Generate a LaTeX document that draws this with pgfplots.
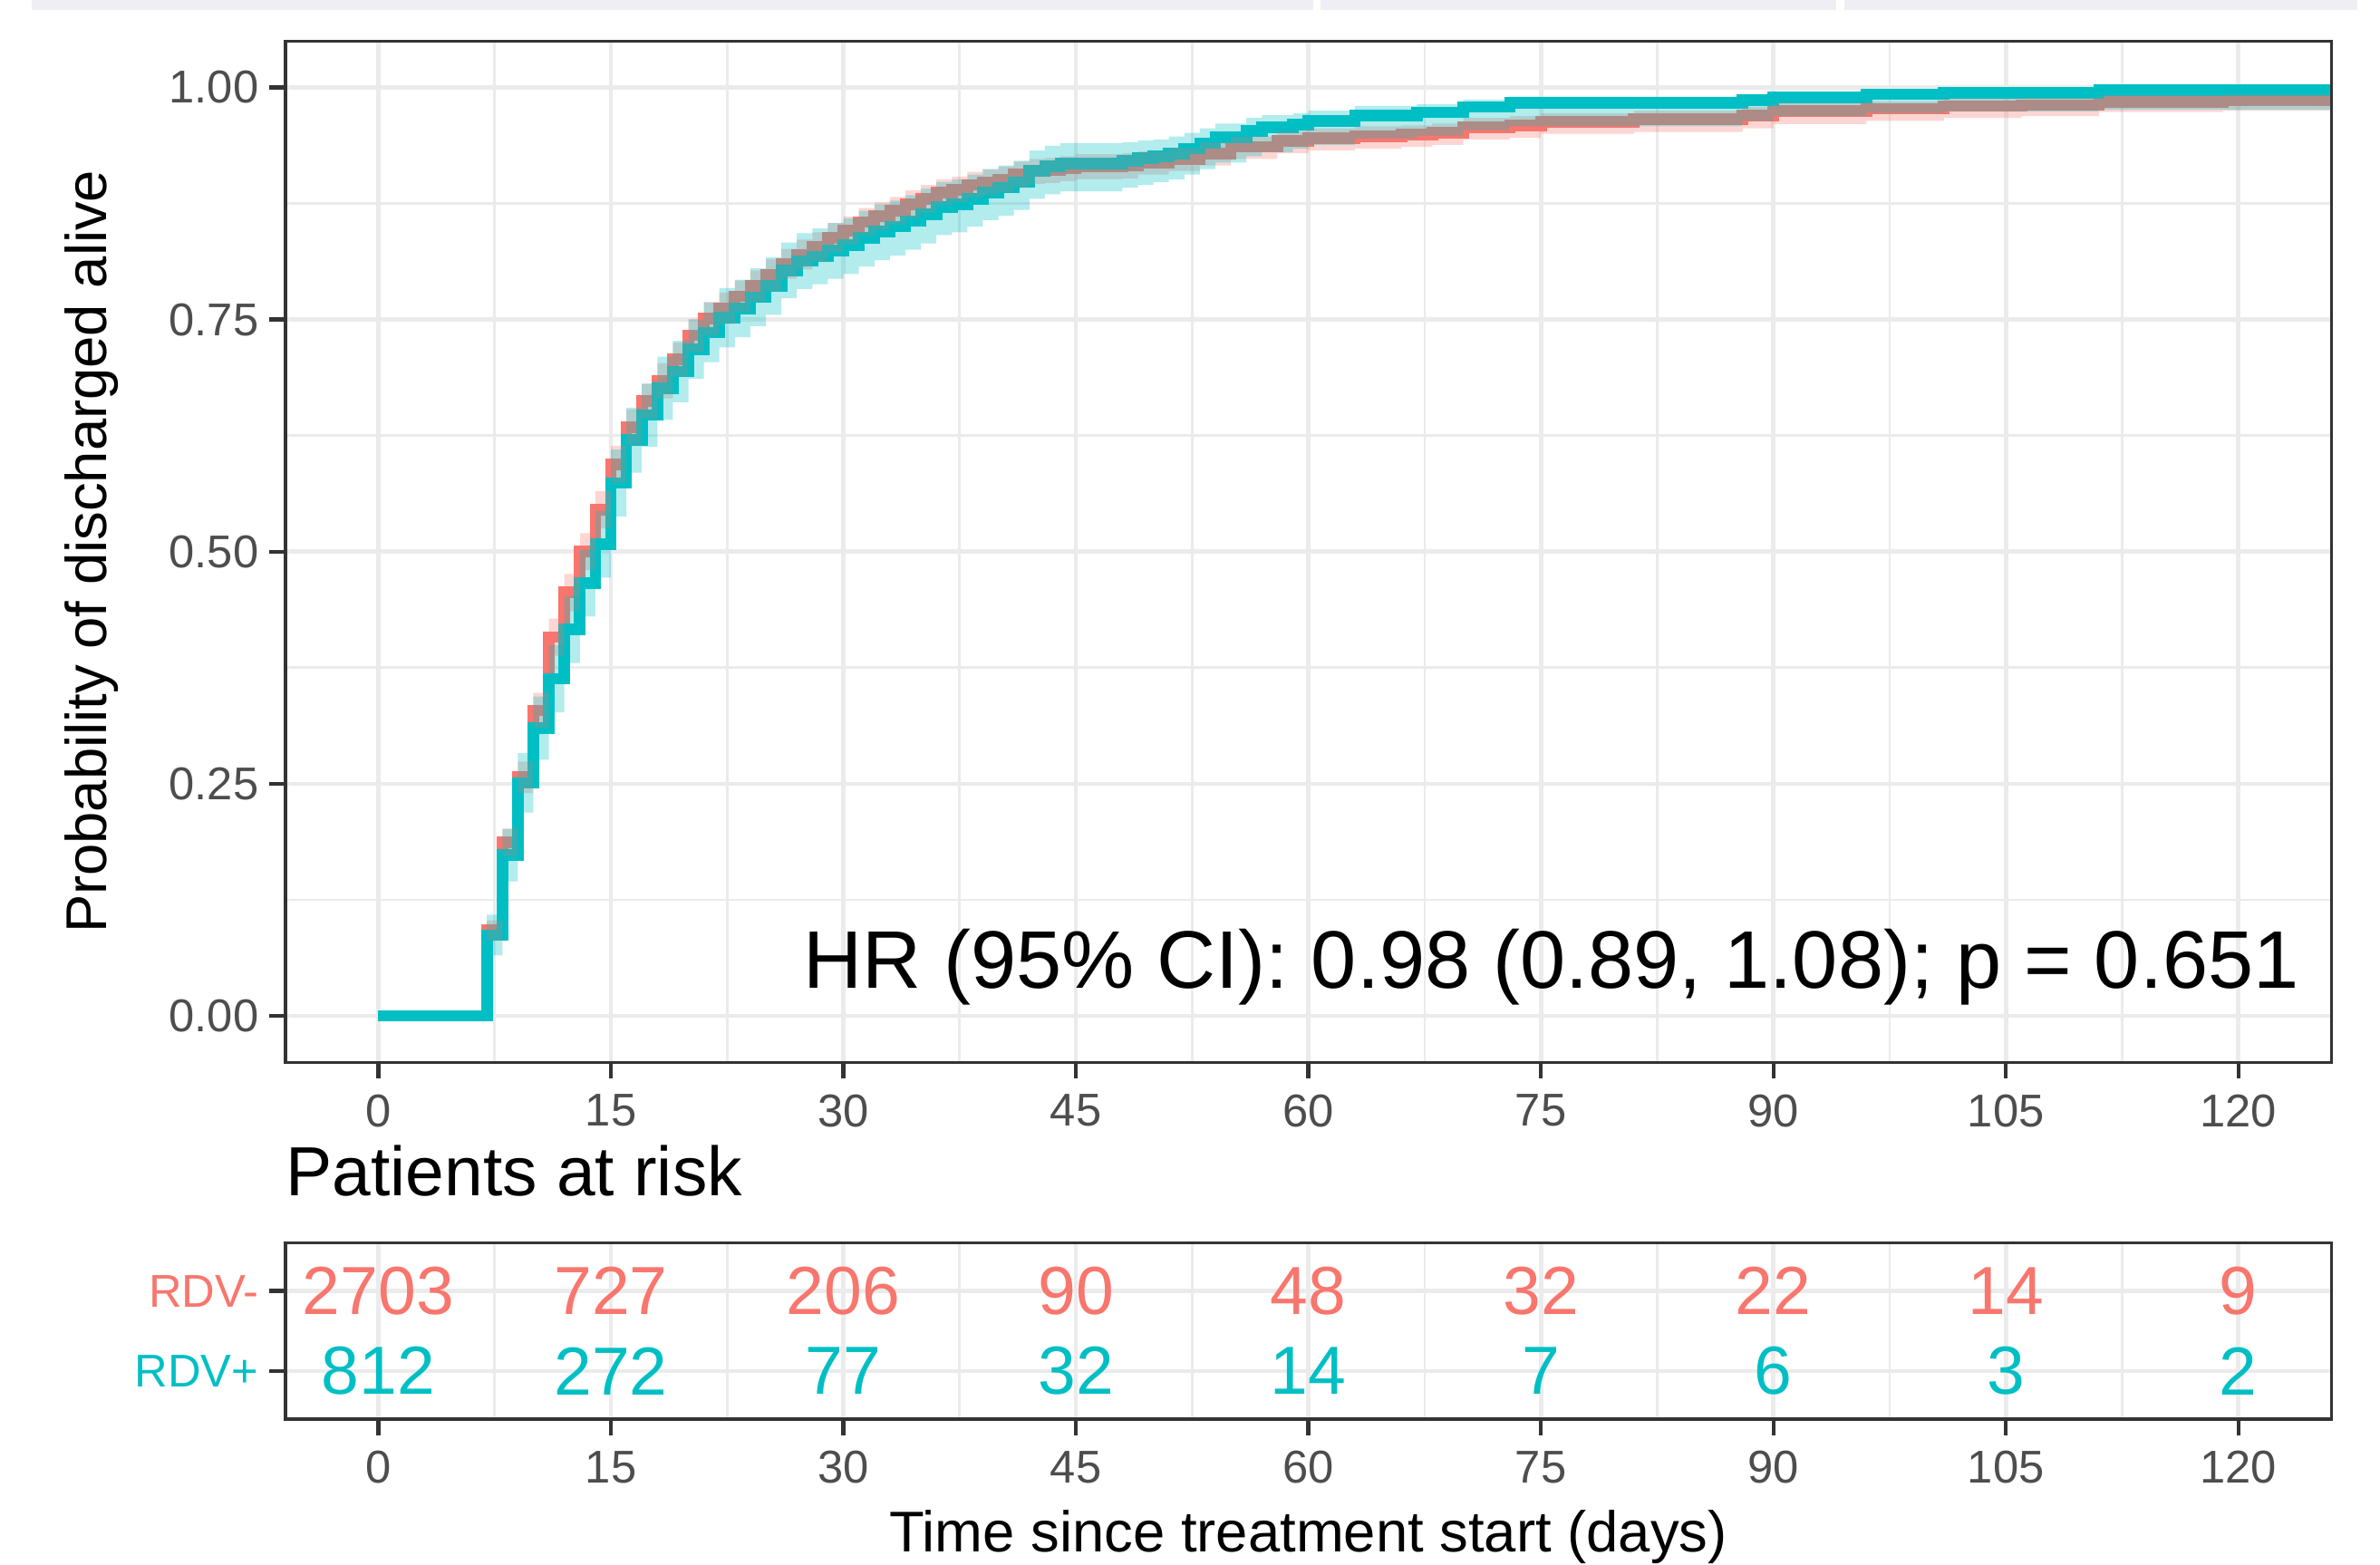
\documentclass[border=0pt]{standalone}
\usepackage{pgfplots}
\pgfplotsset{compat=1.18}
\usepgfplotslibrary{fillbetween}
\usepackage{pgfplotstable}
\usepackage{fontspec}
\setmainfont{Liberation Sans}

\definecolor{rdvneg}{HTML}{F8766D}
\definecolor{rdvpos}{HTML}{00BFC4}
\definecolor{gridc}{HTML}{EBEBEB}
\definecolor{axc}{HTML}{333333}
\definecolor{tickc}{HTML}{4D4D4D}
\definecolor{topbar}{HTML}{EFEEF5}

% ribbons drawn in order (on top of the curves), as in the original
\pgfplotsset{every fill between plot/.style={area legend}}

% RDV- : time, estimate, lower and upper CI offsets
\pgfplotstableread{
t s dl du
0 0 0 0
7 0.092 0.011 0.011
8 0.187 0.015 0.015
9 0.257 0.017 0.017
10 0.329 0.019 0.019
11 0.408 0.020 0.020
12 0.456 0.020 0.020
13 0.500 0.020 0.020
14 0.545 0.020 0.020
15 0.594 0.020 0.020
16 0.634 0.019 0.019
17 0.662 0.019 0.019
18 0.684 0.019 0.019
19 0.707 0.018 0.018
20 0.733 0.018 0.018
21 0.751 0.018 0.018
22 0.762 0.017 0.017
23 0.775 0.017 0.017
24 0.786 0.017 0.017
25 0.798 0.017 0.017
26 0.810 0.016 0.016
27 0.820 0.016 0.016
28 0.828 0.016 0.016
29 0.838 0.016 0.016
30 0.846 0.015 0.015
31 0.855 0.015 0.015
32 0.861 0.015 0.015
33 0.867 0.015 0.015
34 0.874 0.015 0.015
35 0.880 0.015 0.015
36 0.887 0.014 0.014
37 0.890 0.014 0.014
38 0.895 0.014 0.014
39 0.898 0.014 0.014
40 0.901 0.014 0.014
41 0.906 0.014 0.014
42 0.910 0.014 0.013
43 0.911 0.014 0.013
44 0.913 0.014 0.013
45 0.915 0.014 0.013
48 0.916 0.014 0.013
49 0.919 0.013 0.012
51 0.923 0.013 0.012
53 0.929 0.013 0.012
55 0.936 0.013 0.011
58 0.942 0.013 0.011
60 0.945 0.013 0.011
63 0.947 0.013 0.011
66 0.949 0.013 0.010
68 0.951 0.013 0.010
70 0.957 0.013 0.010
73 0.959 0.013 0.010
75 0.963 0.013 0.009
81 0.966 0.014 0.009
88 0.970 0.014 0.009
90 0.9745 0.014 0.009
96 0.977 0.013 0.008
101 0.980 0.013 0.008
106 0.981 0.012 0.008
111 0.9845 0.011 0.007
119 0.986 0.011 0.007
126 0.986 0.011 0.007
}\negdata

% RDV+ : time, estimate, lower and upper CI offsets
\pgfplotstableread{
t s dl du
0 0 0 0
7 0.087 0.022 0.022
8 0.173 0.028 0.028
9 0.251 0.032 0.032
10 0.310 0.034 0.034
11 0.363 0.036 0.036
12 0.416 0.036 0.036
13 0.466 0.036 0.036
14 0.508 0.036 0.036
15 0.574 0.036 0.036
16 0.620 0.035 0.035
17 0.647 0.034 0.034
18 0.676 0.034 0.034
19 0.694 0.033 0.033
20 0.718 0.032 0.032
21 0.736 0.032 0.032
22 0.752 0.032 0.032
23 0.762 0.031 0.031
24 0.774 0.031 0.031
25 0.786 0.031 0.031
26 0.803 0.030 0.030
27 0.813 0.030 0.030
28 0.818 0.030 0.030
29 0.824 0.030 0.030
30 0.830 0.031 0.029
31 0.838 0.031 0.029
32 0.845 0.031 0.029
33 0.850 0.031 0.028
34 0.856 0.031 0.028
35 0.863 0.031 0.028
36 0.871 0.030 0.027
37 0.874 0.030 0.027
38 0.880 0.030 0.026
39 0.887 0.030 0.025
40 0.892 0.030 0.024
41 0.898 0.030 0.023
42 0.910 0.030 0.022
43 0.915 0.030 0.022
44 0.918 0.030 0.022
48 0.921 0.029 0.020
49 0.924 0.029 0.019
50 0.926 0.028 0.018
51 0.929 0.028 0.018
52 0.934 0.028 0.017
53 0.940 0.028 0.016
54 0.946 0.027 0.015
56 0.953 0.027 0.014
57 0.957 0.027 0.013
59 0.960 0.026 0.012
60 0.964 0.026 0.011
63 0.970 0.025 0.010
67 0.973 0.025 0.009
70 0.979 0.025 0.008
73 0.983 0.025 0.007
88 0.986 0.022 0.006
90 0.989 0.020 0.005
96 0.9925 0.020 0.004
101 0.994 0.020 0.003
111 0.997 0.021 0.002
126 0.997 0.021 0.002
}\posdata

% numbers at risk
\pgfplotstableread{
t row n
0 2 2703
15 2 727
30 2 206
45 2 90
60 2 48
75 2 32
90 2 22
105 2 14
120 2 9
}\riskneg
\pgfplotstableread{
t row n
0 1 812
15 1 272
30 1 77
45 1 32
60 1 14
75 1 7
90 1 6
105 1 3
120 1 2
}\riskpos

\pgfplotsset{
  ggpanel/.style={
    scale only axis,
    width=674bp,
    xmin=-6, xmax=126,
    xtick={0,15,...,120},
    xticklabels={0,15,30,45,60,75,90,105,120},
    minor xtick={7.5,22.5,...,112.5},
    grid=both,
    major grid style={draw=gridc, line width=1.4bp},
    minor grid style={draw=gridc, line width=0.8bp},
    axis line style={draw=none},
    tick align=outside,
    tick pos=left,
    major tick length=5.3bp,
    minor tick length=0pt,
    major tick style={draw=axc, line width=1.3bp},
    tick label style={font=\fontsize{15.2}{18}\selectfont, text=tickc},
    xticklabel style={yshift=-1.8bp},
    clip mode=individual,
  }
}

\begin{document}
\begin{tikzpicture}
\path[use as bounding box] (0,0) rectangle (784bp,515.5bp);

% remnant of the page header above the figure
\fill[topbar] (10.5bp,512.2bp) rectangle (432.5bp,515.5bp);
\fill[topbar] (435bp,512.2bp) rectangle (605bp,515.5bp);
\fill[topbar] (607.5bp,512.2bp) rectangle (776.5bp,515.5bp);

% ---------------- survival curves ----------------
\begin{axis}[
  ggpanel,
  at={(94bp,165.5bp)}, anchor=south west,
  height=336.5bp,
  ymin=-0.05, ymax=1.05,
  ytick={0,0.25,0.5,0.75,1},
  yticklabels={0.00,0.25,0.50,0.75,1.00},
  minor ytick={0.125,0.375,0.625,0.875},
  ylabel={Probability of discharged alive},
  ylabel style={at={(axis description cs:-0.0875,0.5)}, anchor=base,
    font=\fontsize{19}{22}\selectfont, inner sep=0pt},
]
\addplot[rdvneg, line width=3.8bp, const plot]
  table[x=t, y=s] {\negdata};
\addplot[rdvpos, line width=3.8bp, const plot]
  table[x=t, y=s] {\posdata};

\addplot[name path=nu, draw=none, const plot, forget plot]
  table[x=t, y expr=\thisrow{s}+\thisrow{du}] {\negdata};
\addplot[name path=nl, draw=none, const plot, forget plot]
  table[x=t, y expr=\thisrow{s}-\thisrow{dl}] {\negdata};
\addplot[fill=rdvneg, fill opacity=0.3, draw=none] fill between[of=nu and nl];

\addplot[name path=pu, draw=none, const plot, forget plot]
  table[x=t, y expr=\thisrow{s}+\thisrow{du}] {\posdata};
\addplot[name path=pl, draw=none, const plot, forget plot]
  table[x=t, y expr=\thisrow{s}-\thisrow{dl}] {\posdata};
\addplot[fill=rdvpos, fill opacity=0.3, draw=none] fill between[of=pu and pl];

\draw[axc, line width=1bp] (rel axis cs:0,0) rectangle (rel axis cs:1,1);
\end{axis}

\node[anchor=base east, inner sep=0pt, font=\fontsize{27}{30}\selectfont]
  at (757.5bp,189.8bp) {HR (95\% CI): 0.98 (0.89, 1.08); p = 0.651};

\node[anchor=base west, inner sep=0pt, font=\fontsize{23}{26}\selectfont]
  at (94bp,121.5bp) {Patients at risk};

% ---------------- risk table ----------------
\begin{axis}[
  ggpanel,
  at={(94bp,48bp)}, anchor=south west,
  height=58bp,
  ymin=0.4, ymax=2.6,
  ytick={1,2},
  yticklabels={\textcolor{rdvpos}{RDV+},\textcolor{rdvneg}{RDV-}},
  minor ytick={},
  xlabel={Time since treatment start (days)},
  xlabel style={at={(axis description cs:0.5,-0.755)}, anchor=base,
    font=\fontsize{19}{22}\selectfont, inner sep=0pt},
]
\addplot[draw=none, nodes near coords, point meta=explicit symbolic,
  every node near coord/.style={anchor=center, inner sep=0pt,
    text=rdvneg, font=\fontsize{22.5}{25}\selectfont}]
  table[x=t, y=row, meta=n] {\riskneg};
\addplot[draw=none, nodes near coords, point meta=explicit symbolic,
  every node near coord/.style={anchor=center, inner sep=0pt,
    text=rdvpos, font=\fontsize{22.5}{25}\selectfont}]
  table[x=t, y=row, meta=n] {\riskpos};
\draw[axc, line width=1bp] (rel axis cs:0,0) rectangle (rel axis cs:1,1);
\end{axis}
\end{tikzpicture}
\end{document}
